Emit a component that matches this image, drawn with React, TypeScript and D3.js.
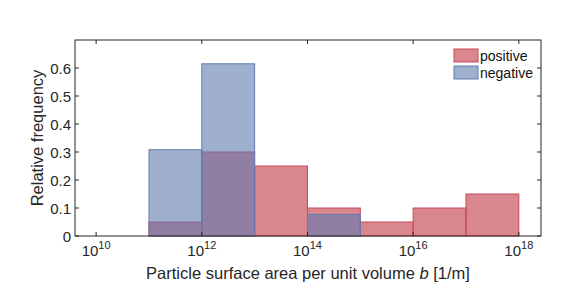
import React from 'react';
import * as d3 from 'd3';

// bin edges in log10(b)
const posEdges = [11, 12, 13, 14, 15, 16, 17, 18];
const posValues = [0.05, 0.3, 0.25, 0.1, 0.05, 0.1, 0.15];
const negEdges = [10, 11, 12, 13, 14, 15];
const negValues = [0, 0.308, 0.615, 0, 0.077];
const xTicks = [10, 12, 14, 16, 18];
const yTicks = [0, 0.1, 0.2, 0.3, 0.4, 0.5, 0.6];
const seriesNames = ['positive', 'negative'];

const W = 581;
const H = 298;
const margin = { left: 75, right: 40, top: 40, bottom: 62 };
const font = '"Liberation Sans", Arial, Helvetica, sans-serif';

const posFill = 'rgb(192,53,67)';
const posEdge = 'rgb(200,75,90)';
const negFill = 'rgb(95,123,175)';
const negEdge = 'rgb(95,125,178)';

const App: React.FC = () => {
  const x = d3.scaleLinear().domain([9.6, 18.42]).range([margin.left, W - margin.right]);
  const y = d3.scaleLinear().domain([0, 0.7]).range([H - margin.bottom, margin.top]);
  const [x0, x1] = x.range();
  const [yb, yt] = y.range();

  const bars = (edges: number[], vals: number[], fill: string, edge: string, key: string) =>
    vals.map((v, i) => (
      <rect
        key={key + i}
        x={x(edges[i])}
        y={y(v)}
        width={x(edges[i + 1]) - x(edges[i])}
        height={yb - y(v)}
        fill={fill}
        fillOpacity={0.6}
        stroke={edge}
        strokeWidth={1}
      />
    ));

  return (
    <div style={{ position: 'absolute', left: 0, top: 0 }}>
      <svg width={W} height={H} style={{ display: 'block', fontFamily: font }}>
        <rect x={0} y={0} width={W} height={H} fill="#fff" />
        {bars(posEdges, posValues, posFill, posEdge, 'p')}
        {bars(negEdges, negValues, negFill, negEdge, 'n')}
        {/* axes box */}
        <rect x={x0} y={yt} width={x1 - x0} height={yb - yt} fill="none" stroke="#262626" strokeWidth={1} />
        {xTicks.map(t => (
          <g key={'xt' + t}>
            <line x1={x(t)} x2={x(t)} y1={yb} y2={yb - 4} stroke="#262626" />
            <line x1={x(t)} x2={x(t)} y1={yt} y2={yt + 4} stroke="#262626" />
            <text x={x(t)} y={yb + 20} textAnchor="middle" fontSize={15} fill="#262626">
              10<tspan dy={-7} fontSize={11}>{t}</tspan>
            </text>
          </g>
        ))}
        {yTicks.map(t => (
          <g key={'yt' + t}>
            <line x1={x0} x2={x0 + 4} y1={y(t)} y2={y(t)} stroke="#262626" />
            <line x1={x1} x2={x1 - 4} y1={y(t)} y2={y(t)} stroke="#262626" />
            <text x={x0 - 4} y={y(t) + 5.5} textAnchor="end" fontSize={15} fill="#262626">
              {t === 0 ? '0' : d3.format('.1f')(t)}
            </text>
          </g>
        ))}
        <text
          transform={`translate(${x0 - 32},${(yb + yt) / 2}) rotate(-90)`}
          textAnchor="middle"
          fontSize={16.5}
          fill="#262626"
        >
          Relative frequency
        </text>
        <text x={(x0 + x1) / 2} y={yb + 43} textAnchor="middle" fontSize={16.5} fill="#262626">
          Particle surface area per unit volume <tspan fontStyle="italic">b</tspan> [1/m]
        </text>
        {/* legend */}
        {seriesNames.map((s, i) => (
          <g key={s} transform={`translate(454,${49 + i * 17})`}>
            <rect
              x={0}
              y={0}
              width={24}
              height={13}
              fill={i === 0 ? posFill : negFill}
              fillOpacity={0.6}
              stroke={i === 0 ? posEdge : negEdge}
            />
            <text x={26} y={11.5} fontSize={14} fill="#111">{s}</text>
          </g>
        ))}
      </svg>
    </div>
  );
};

export default App;
